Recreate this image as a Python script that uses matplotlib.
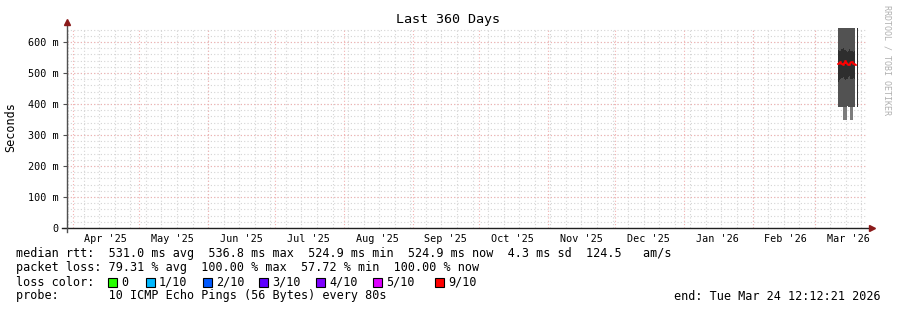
import datetime as dt
import matplotlib
matplotlib.use('Agg')
import matplotlib.pyplot as plt
from matplotlib.patches import Rectangle

# time window
t_end = dt.datetime(2026, 3, 24, 12, 12, 21)
t_start = t_end - dt.timedelta(days=360)

# smoke data: bins in March 2026 (seconds)
bin_edges = [dt.datetime(2026, 3, 11, 12) + dt.timedelta(hours=12 * i) for i in range(17)] + \
            [dt.datetime(2026, 3, 19, 20), dt.datetime(2026, 3, 20, 16)]
smoke_top = [0.645] * 16 + [None, 0.645]
smoke_low = [0.390, 0.390, 0.390, 0.390, 0.348, 0.348, 0.348, 0.348, 0.392, 0.390,
             0.390, 0.348, 0.348, 0.390, 0.390, 0.390, None, 0.390]
band_hi = [0.575, 0.572, 0.570, 0.578, 0.580, 0.575, 0.575, 0.570, 0.568, 0.572,
           0.576, 0.572, 0.570, 0.566, 0.572, 0.570, None, 0.645]
band_lo = [0.472, 0.478, 0.480, 0.484, 0.486, 0.480, 0.476, 0.481, 0.481, 0.486,
           0.490, 0.482, 0.479, 0.485, 0.481, 0.480, None, 0.390]
median = [0.528, 0.532, 0.535, 0.528, 0.525, 0.533, 0.538, 0.531, 0.530, 0.526,
          0.527, 0.533, 0.536, 0.530, 0.530, 0.525, None, None]

loss_labels = ['0', '1/10', '2/10', '3/10', '4/10', '5/10', '9/10']
loss_colors = ['#26ff00', '#00b8ff', '#0059ff', '#5e00ff', '#7e00ff', '#dd00ff', '#ff0000']
loss_px = [108, 146, 203, 259, 316, 373, 435]

W, H = 897, 310
mono = 'DejaVu Sans Mono'
fs = 8.45
afs = 7.3

fig = plt.figure(figsize=(W / 100, H / 100), dpi=100)
ax = fig.add_axes([67 / W, (H - 228) / H, 800 / W, 200 / H])
ax.set_xlim(t_start, t_end)
ax.set_ylim(0, 0.645)
for s in ax.spines.values():
    s.set_visible(False)

# grid
d = dt.date(2025, 3, 30)
while d < t_end.date():
    ax.axvline(d, color='#d4d4d4', lw=0.8, ls=(0, (1, 2)), zorder=0)
    d += dt.timedelta(days=7)
for m in range(4, 16):
    md = dt.date(2025 + (m - 1) // 12, (m - 1) % 12 + 1, 1)
    ax.axvline(md, color='#f2b0b0', lw=0.8, ls=(0, (1, 2)), zorder=0.5)
for v in range(0, 646, 20):
    ax.axhline(v / 1000, color='#d4d4d4', lw=0.8, ls=(0, (1, 2)), zorder=0)
for v in range(100, 646, 100):
    ax.axhline(v / 1000, color='#f2b0b0', lw=0.8, ls=(0, (1, 2)), zorder=0.5)

# smoke
def ext(a):
    a = [float('nan') if v is None else v for v in a]
    return a + [a[-1]]

lo = ext(smoke_low)
ax.fill_between(bin_edges, lo, ext(smoke_top), step='post', color='#7c7c7c', lw=0, zorder=2)
ax.fill_between(bin_edges, [max(v, 0.39) for v in lo], ext(smoke_top), step='post', color='#525252', lw=0, zorder=2)
ax.fill_between(bin_edges, ext(band_lo), ext(band_hi), step='post', color='#2e2e2e', lw=0, zorder=3)
ax.step(bin_edges, ext(median), where='post', color='#ff0000', lw=1.2, zorder=4)

# axes lines and arrows
ax.plot([-0.006, 1.006], [0, 0], transform=ax.transAxes, color='#202020', lw=1, clip_on=False)
ax.plot([0, 0], [-0.02, 1.03], transform=ax.transAxes, color='#505050', lw=1, clip_on=False)
ax.plot([1.006], [0], marker='>', ms=4, color='#8b1a1a', transform=ax.transAxes, clip_on=False)
ax.plot([0], [1.03], marker='^', ms=4, color='#8b1a1a', transform=ax.transAxes, clip_on=False)

ax.set_yticks([v / 1000 for v in range(0, 601, 100)])
ax.set_yticklabels(['0'] + ['%d m' % v for v in range(100, 601, 100)], family=mono, fontsize=afs)
ax.tick_params(axis='y', length=3, width=0.8, color='#505050', pad=3)
mids = [dt.datetime(2025 + (m - 1) // 12, (m - 1) % 12 + 1, 16) for m in range(4, 16)]
ax.set_xticks(mids)
ax.set_xticklabels([t.strftime("%b '%y") for t in mids], family=mono, fontsize=afs)
ax.tick_params(axis='x', length=0, pad=4)

fig.text(448 / W, 1 - 19 / H, 'Last 360 Days', family=mono, fontsize=9.6, ha='center', va='center')
fig.text(11 / W, 1 - 127 / H, 'Seconds', family=mono, fontsize=fs, rotation=90, ha='center', va='center')
fig.text(887 / W, 1 - 60 / H, 'RRDTOOL / TOBI OETIKER', family=mono, fontsize=6, rotation=270,
         ha='center', va='center', color='#b0b0b0')

lines = [
    'median rtt:  531.0 ms avg  536.8 ms max  524.9 ms min  524.9 ms now  4.3 ms sd  124.5   am/s',
    'packet loss: 79.31 % avg  100.00 % max  57.72 % min  100.00 % now',
    'loss color:',
    'probe:       10 ICMP Echo Pings (56 Bytes) every 80s',
]
for i, ln in enumerate(lines):
    fig.text(16 / W, 1 - (254 + 14 * i) / H, ln, family=mono, fontsize=fs, va='center')
for lab, col, x in zip(loss_labels, loss_colors, loss_px):
    fig.patches.append(Rectangle((x / W, 1 - 287 / H), 9 / W, 9 / H, transform=fig.transFigure,
                                 facecolor=col, edgecolor='black', lw=0.8))
    fig.text((x + 13) / W, 1 - 282 / H, lab, family=mono, fontsize=fs, va='center')
fig.text(881 / W, 1 - 296 / H, 'end: Tue Mar 24 12:12:21 2026', family=mono, fontsize=fs,
         va='center', ha='right')

fig.savefig('out.png', dpi=100)
